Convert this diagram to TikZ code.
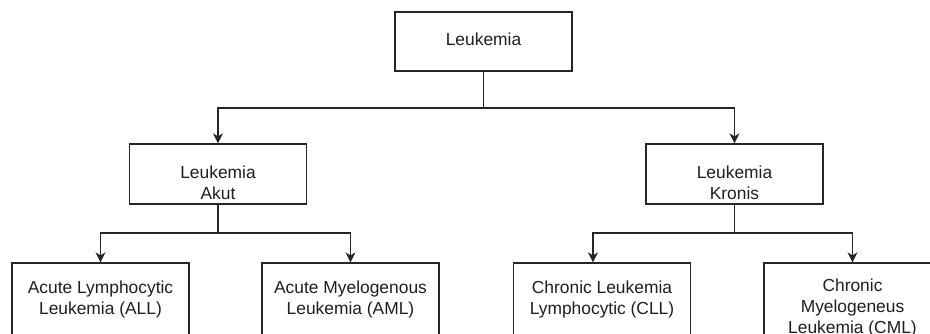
\documentclass[tikz,border=0pt]{standalone}
\usepackage{fontspec}
\setmainfont{Liberation Sans}
\usetikzlibrary{arrows.meta}
\begin{document}
\begin{tikzpicture}[x=1pt,y=-1pt,
  box/.style={draw=black!85,line width=1.3pt,fill=white,minimum width=177pt,minimum height=60pt,inner sep=0pt},
  txt/.style={align=center,font=\fontsize{17.4pt}{21pt}\selectfont,text=black!88,inner sep=0pt},
  conn/.style={draw=black!85,line width=1.3pt},
  arr/.style={conn,-{Stealth[length=10pt,width=10pt,inset=3pt]}}]
\path[use as bounding box] (0,0) rectangle (930,333);
\clip (0,0) rectangle (930,333);
% boxes
\node[box,minimum height=59pt] (root) at (483.5,41.5) {};
\node[txt] (roott) at (483.5,39) {Leukemia};
\node[box] (akut) at (218,174) {};
\node[txt] (akutt) at (218,182.5) {Leukemia\\Akut};
\node[box] (kronis) at (734.5,174) {};
\node[txt] (kronist) at (734.5,182.5) {Leukemia\\Kronis};
\node[box,minimum height=90pt] (all) at (100.5,308) {};
\node[txt] (allt) at (100.5,299) {Acute Lymphocytic\\Leukemia (ALL)};
\node[box,minimum height=90pt] (aml) at (350.5,308) {};
\node[txt] (amlt) at (350.5,299) {Acute Myelogenous\\Leukemia (AML)};
\node[box,minimum height=90pt] (cll) at (602,308) {};
\node[txt] (cllt) at (602,299) {Chronic Leukemia\\Lymphocytic (CLL)};
\node[box,minimum height=90pt] (cml) at (852.5,308) {};
\node[txt] (cmlt) at (852.5,307.5) {Chronic\\Myelogeneus\\Leukemia (CML)};
% junctions
\coordinate (j0) at (483.5,108);
\coordinate (j1) at (218,233);
\coordinate (j2) at (734.5,233);
% connectors
\draw[conn] (root.south) -- (j0);
\draw[arr] (j0) -| (akut.north);
\draw[arr] (j0) -| (kronis.north);
\draw[conn] (akut.south) -- (j1);
\draw[arr] (j1) -| (all.north);
\draw[arr] (j1) -| (aml.north);
\draw[conn] (kronis.south) -- (j2);
\draw[arr] (j2) -| ([xshift=-9pt]cll.north);
\draw[arr] (j2) -| (cml.north);
\end{tikzpicture}
\end{document}
